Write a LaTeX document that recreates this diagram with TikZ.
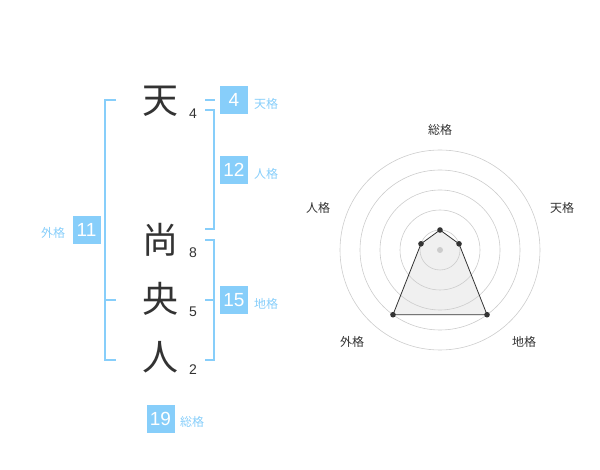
\documentclass[tikz,border=0pt]{standalone}
\usepackage{fontspec}
\setmainfont{Liberation Sans}
\newfontfamily\jp{Noto Sans CJK JP}
\definecolor{kakublue}{HTML}{87CEFA}
\definecolor{ink}{HTML}{333333}
\definecolor{ring}{HTML}{CCCCCC}
\definecolor{area}{HTML}{F0F0F0}
\begin{document}
\begin{tikzpicture}[x=1pt,y=-1pt]
    \tikzstyle{kanji}=[text=ink, inner sep=0pt, font=\jp\fontsize{36}{36}\selectfont]
    \tikzstyle{strokes}=[text=ink, inner sep=0pt, font=\fontsize{14}{14}\selectfont]
    \tikzstyle{numbox}=[fill=kakublue, text=white, minimum size=28pt, inner sep=0pt, font=\fontsize{19}{19}\selectfont]
    \tikzstyle{kakulabel}=[text=kakublue, inner sep=0pt, font=\jp\fontsize{12}{12}\selectfont]
    \tikzstyle{bracket}=[draw=kakublue, line width=2pt]
    \tikzstyle{radarlabel}=[text=ink, inner sep=0pt, font=\jp\fontsize{12}{12}\selectfont]
    \useasboundingbox (0,0) rectangle (600,470);
    % name and stroke counts
    \foreach \name/\ch/\y/\n in {ten/天/101/4, sho/尚/240/8, o/央/299/5, hito/人/357/2} {
      \node[kanji] (\name) at (160,\y) {\ch};
      \node[strokes] (\name-n) at (193,\y+13) {\n};
    }
    % brackets
    \coordinate (gl1) at (116,100); \coordinate (gl2) at (105,100);
    \coordinate (gl3) at (105,360); \coordinate (gl4) at (116,360);
    \draw[bracket] (gl1) -- (gl2) -- (gl3) -- (gl4);
    \draw[bracket] (105,300) -- (116,300);
    \draw[bracket] (205,100) -- (215,100);
    \draw[bracket] (205,110) -- (214,110) -- (214,229) -- (205,229);
    \draw[bracket] (205,240) -- (214,240) -- (214,360) -- (205,360);
    \draw[bracket] (205,300) -- (214,300);
    % boxes
    \node[numbox] (tenkaku) at (234,100) {4};
    \node[numbox] (jinkaku) at (234,170) {12};
    \node[numbox] (chikaku) at (234,300) {15};
    \node[numbox] (gaikaku) at (86.5,230) {11};
    \node[numbox] (sokaku) at (160.5,419) {19};
    \node[kakulabel] (tenkaku-l) at (266,104) {天格};
    \node[kakulabel] (jinkaku-l) at (266,174) {人格};
    \node[kakulabel] (chikaku-l) at (266,304) {地格};
    \node[kakulabel] (gaikaku-l) at (53,233) {外格};
    \node[kakulabel] (sokaku-l) at (192,422) {総格};
    % radar
    \begin{scope}[shift={(440,250)}, yscale=-1]
      \foreach \k/\a/\r in {so/90/20, ten/18/20, chi/-54/80, gai/234/80, jin/162/20}
        \coordinate (p-\k) at (\a:\r);
      \fill[area] (p-so) -- (p-ten) -- (p-chi) -- (p-gai) -- (p-jin) -- cycle;
      \foreach \r in {20,40,...,100}
        \draw[ring, line width=0.6pt] (0,0) circle (\r);
      \fill[ring] (0,0) circle (3);
      \draw[ink, line width=0.8pt] (p-so) -- (p-ten) -- (p-chi) -- (p-gai) -- (p-jin) -- cycle;
      \foreach \k in {so,ten,chi,gai,jin}
        \fill[ink] (p-\k) circle (2.8);
      \node[radarlabel] (r-so) at (0,120) {総格};
      \node[radarlabel] (r-ten) at (122,42) {天格};
      \node[radarlabel] (r-chi) at (84,-92) {地格};
      \node[radarlabel] (r-gai) at (-88,-92) {外格};
      \node[radarlabel] (r-jin) at (-122,42) {人格};
    \end{scope}
\end{tikzpicture}
\end{document}
